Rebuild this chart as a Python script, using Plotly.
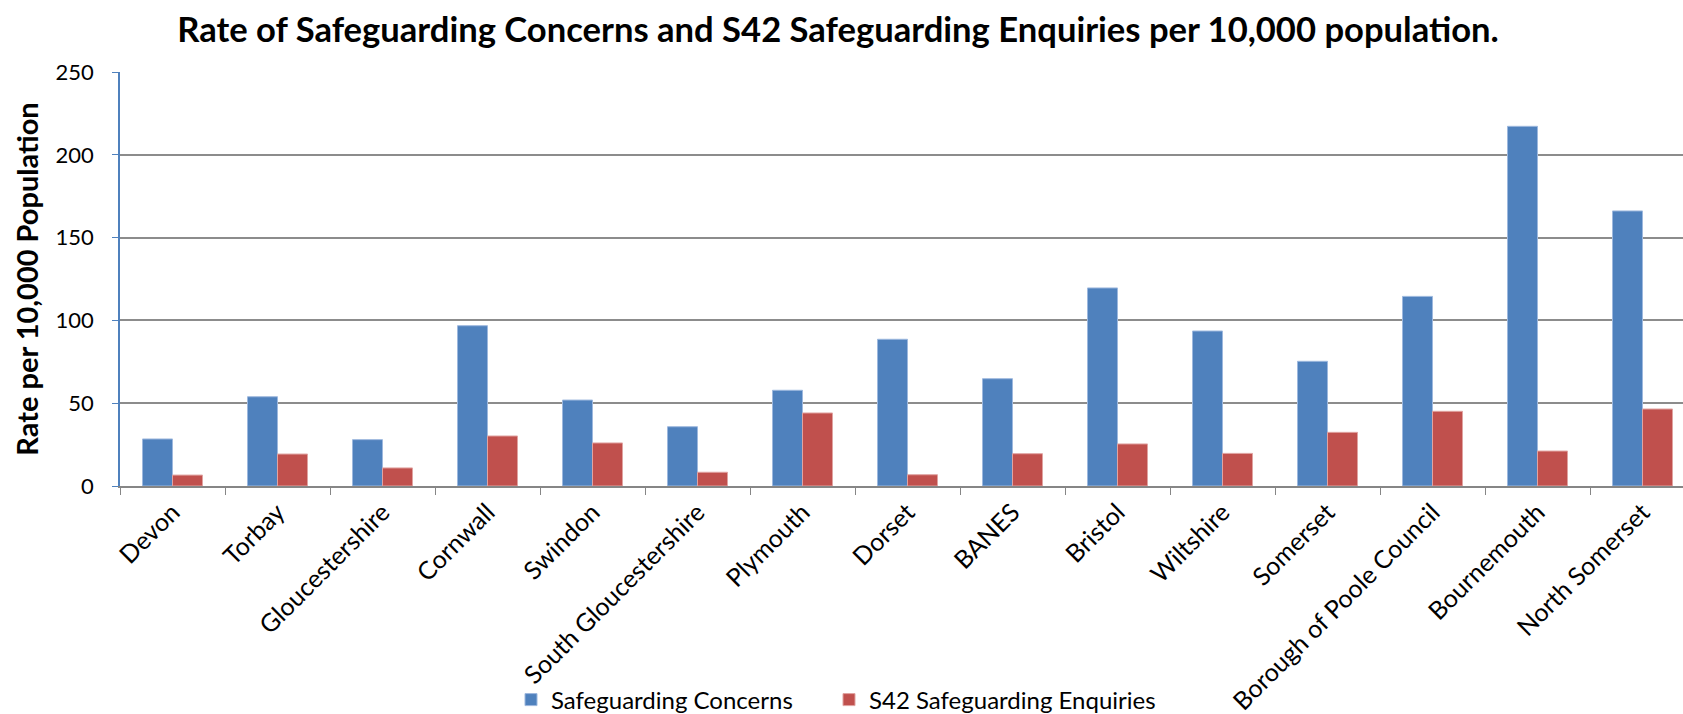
import plotly.graph_objects as go

categories = ["Devon", "Torbay", "Gloucestershire", "Cornwall", "Swindon",
              "South Gloucestershire", "Plymouth", "Dorset", "BANES", "Bristol",
              "Wiltshire", "Somerset", "Borough of Poole Council", "Bournemouth",
              "North Somerset"]
concerns = [28.4, 53.9, 28.0, 96.8, 51.9, 35.8, 57.8, 88.6, 64.8, 119.6,
            93.6, 75.3, 114.5, 217.2, 166.1]
enquiries = [6.6, 19.3, 10.9, 30.2, 26.0, 8.3, 44.1, 6.8, 19.5, 25.4,
             19.7, 32.4, 45.1, 21.1, 46.5]
y_ticks = [0, 50, 100, 150, 200, 250]

FONT = "Lato"
W, H = 1683, 714
L, T, B = 120, 72, 228
cat_w = 105.0
x_end = -0.5 + (W - L) / cat_w

fig = go.Figure()
fig.add_trace(go.Bar(x=categories, y=concerns, name="Safeguarding Concerns",
                     legend="legend", showlegend=True,
                     marker=dict(color="#4F81BD", line=dict(color="#9DB8DE", width=1))))
fig.add_trace(go.Bar(x=categories, y=enquiries, name="S42 Safeguarding Enquiries",
                     legend="legend2", showlegend=True,
                     marker=dict(color="#C0504D", line=dict(color="#E0A3A1", width=1))))

leg_common = dict(orientation="h", xref="container", yref="container",
                  xanchor="left", y=14 / H, yanchor="middle", visible=True,
                  font=dict(family=FONT, size=24, color="black"),
                  itemwidth=30, bgcolor="rgba(0,0,0,0)")

fig.update_layout(
    width=W, height=H,
    showlegend=True,
    margin=dict(l=L, r=0, t=T, b=B, pad=0, autoexpand=False),
    paper_bgcolor="white", plot_bgcolor="white",
    barmode="group", bargap=0.4286, bargroupgap=0,
    font=dict(family=FONT, color="black"),
    title=dict(text="<b>Rate of Safeguarding Concerns and S42 Safeguarding Enquiries per 10,000 population.</b>",
               font=dict(family=FONT, size=34.6, color="black"),
               xref="container", x=838 / W, xanchor="center",
               yref="container", y=1 - 30 / H, yanchor="middle"),
    legend=dict(x=511 / W, **leg_common),
    legend2=dict(x=829 / W, **leg_common),
    xaxis=dict(type="category", range=[-0.5, x_end], automargin=False,
               showline=True, linecolor="#868686", linewidth=1.5,
               ticks="outside", tickson="boundaries", ticklen=7, tickcolor="#868686",
               tickangle=-45, tickfont=dict(family=FONT, size=25, color="black"),
               showgrid=False),
    yaxis=dict(range=[0, 250], tickvals=y_ticks, automargin=False,
               showline=True, linecolor="#4F81BD", linewidth=1.5,
               ticks="outside", ticklen=6, tickcolor="#4F81BD",
               ticklabelstandoff=14,
               tickfont=dict(family=FONT, size=22, color="black"),
               showgrid=True, gridcolor="#8C8C8C", gridwidth=1.5,
               zeroline=False,
               title=dict(text="<b>Rate per 10,000 Population</b>",
                          font=dict(family=FONT, size=29, color="black"),
                          standoff=8)),
)

fig.write_html("out.html", config={"displayModeBar": False},
               post_script="document.body.style.margin='0';document.body.style.overflow='hidden';")
